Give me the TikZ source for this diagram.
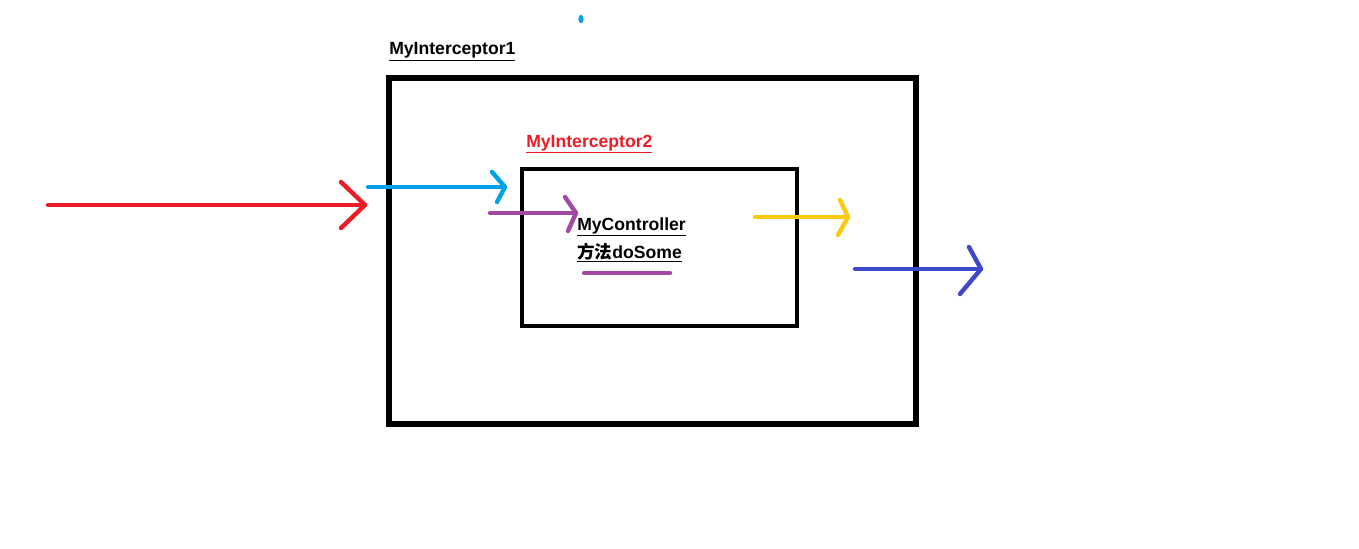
\documentclass[tikz,border=0pt]{standalone}
\usepackage{fontspec}
\setmainfont{Liberation Sans}
\newfontfamily\cjk{Noto Sans CJK SC}
\definecolor{pred}{HTML}{ED1C24}
\definecolor{pblue}{HTML}{00A2E8}
\definecolor{ppurple}{HTML}{A349A4}
\definecolor{pyellow}{HTML}{FFC90E}
\definecolor{pindigo}{HTML}{3F48CC}
\newcommand{\myul}[1]{\underline{#1}}
\tikzset{
  box/.style={draw=black, line width=3.8pt},
  flow/.style={line width=3.3pt, line cap=round, line join=round},
  lbl/.style={anchor=base west, inner sep=0pt, font=\fontsize{13.2pt}{15pt}\selectfont\bfseries},
}
\begin{document}
\begin{tikzpicture}[x=0.75pt,y=-0.75pt]
\useasboundingbox (0,0) rectangle (1359,549);
% boxes
\draw[box] (389,78) rectangle (916,424);
\draw[box, line width=3.2pt] (522,169) rectangle (797,326);
% labels
\node[lbl] (mi1) at (389,55) {\myul{MyInterceptor1}};
\node[lbl, text=pred] (mi2) at (526,147) {\myul{MyInterceptor2}};
\node[lbl] (mc) at (577,230) {\myul{MyController}};
\node[lbl] (ds) at (577,258) {\myul{{\cjk\bfseries 方法}doSome}};
% dot
\fill[pblue] (581,19) ellipse (2.6 and 4.2);
% coordinates
\coordinate (r0) at (48,205);  \coordinate (r1) at (365,205);
\coordinate (ra) at (341,182); \coordinate (rb) at (341,228);
\coordinate (b0) at (368,187); \coordinate (b1) at (505,187);
\coordinate (ba) at (492,172); \coordinate (bb) at (497,202);
\coordinate (p0) at (490,213); \coordinate (p1) at (576,213);
\coordinate (pa) at (565,197); \coordinate (pb) at (568,231);
\coordinate (u0) at (584,273); \coordinate (u1) at (670,273);
\coordinate (y0) at (755,217); \coordinate (y1) at (848,217);
\coordinate (ya) at (840,200); \coordinate (yb) at (838,235);
\coordinate (i0) at (855,269); \coordinate (i1) at (981,269);
\coordinate (ia) at (969,247); \coordinate (ib) at (960,294);
% arrows
\draw[flow, pred] (r0) -- (r1);
\draw[flow, pred] (ra) -- (r1) -- (rb);
\draw[flow, pblue] (b0) -- (b1);
\draw[flow, pblue] (ba) -- (b1) -- (bb);
\draw[flow, ppurple] (p0) -- (p1);
\draw[flow, ppurple] (pa) -- (p1) -- (pb);
\draw[flow, ppurple] (u0) -- (u1);
\draw[flow, pyellow] (y0) -- (y1);
\draw[flow, pyellow] (ya) -- (y1) -- (yb);
\draw[flow, pindigo] (i0) -- (i1);
\draw[flow, pindigo] (ia) -- (i1) -- (ib);
\end{tikzpicture}
\end{document}
